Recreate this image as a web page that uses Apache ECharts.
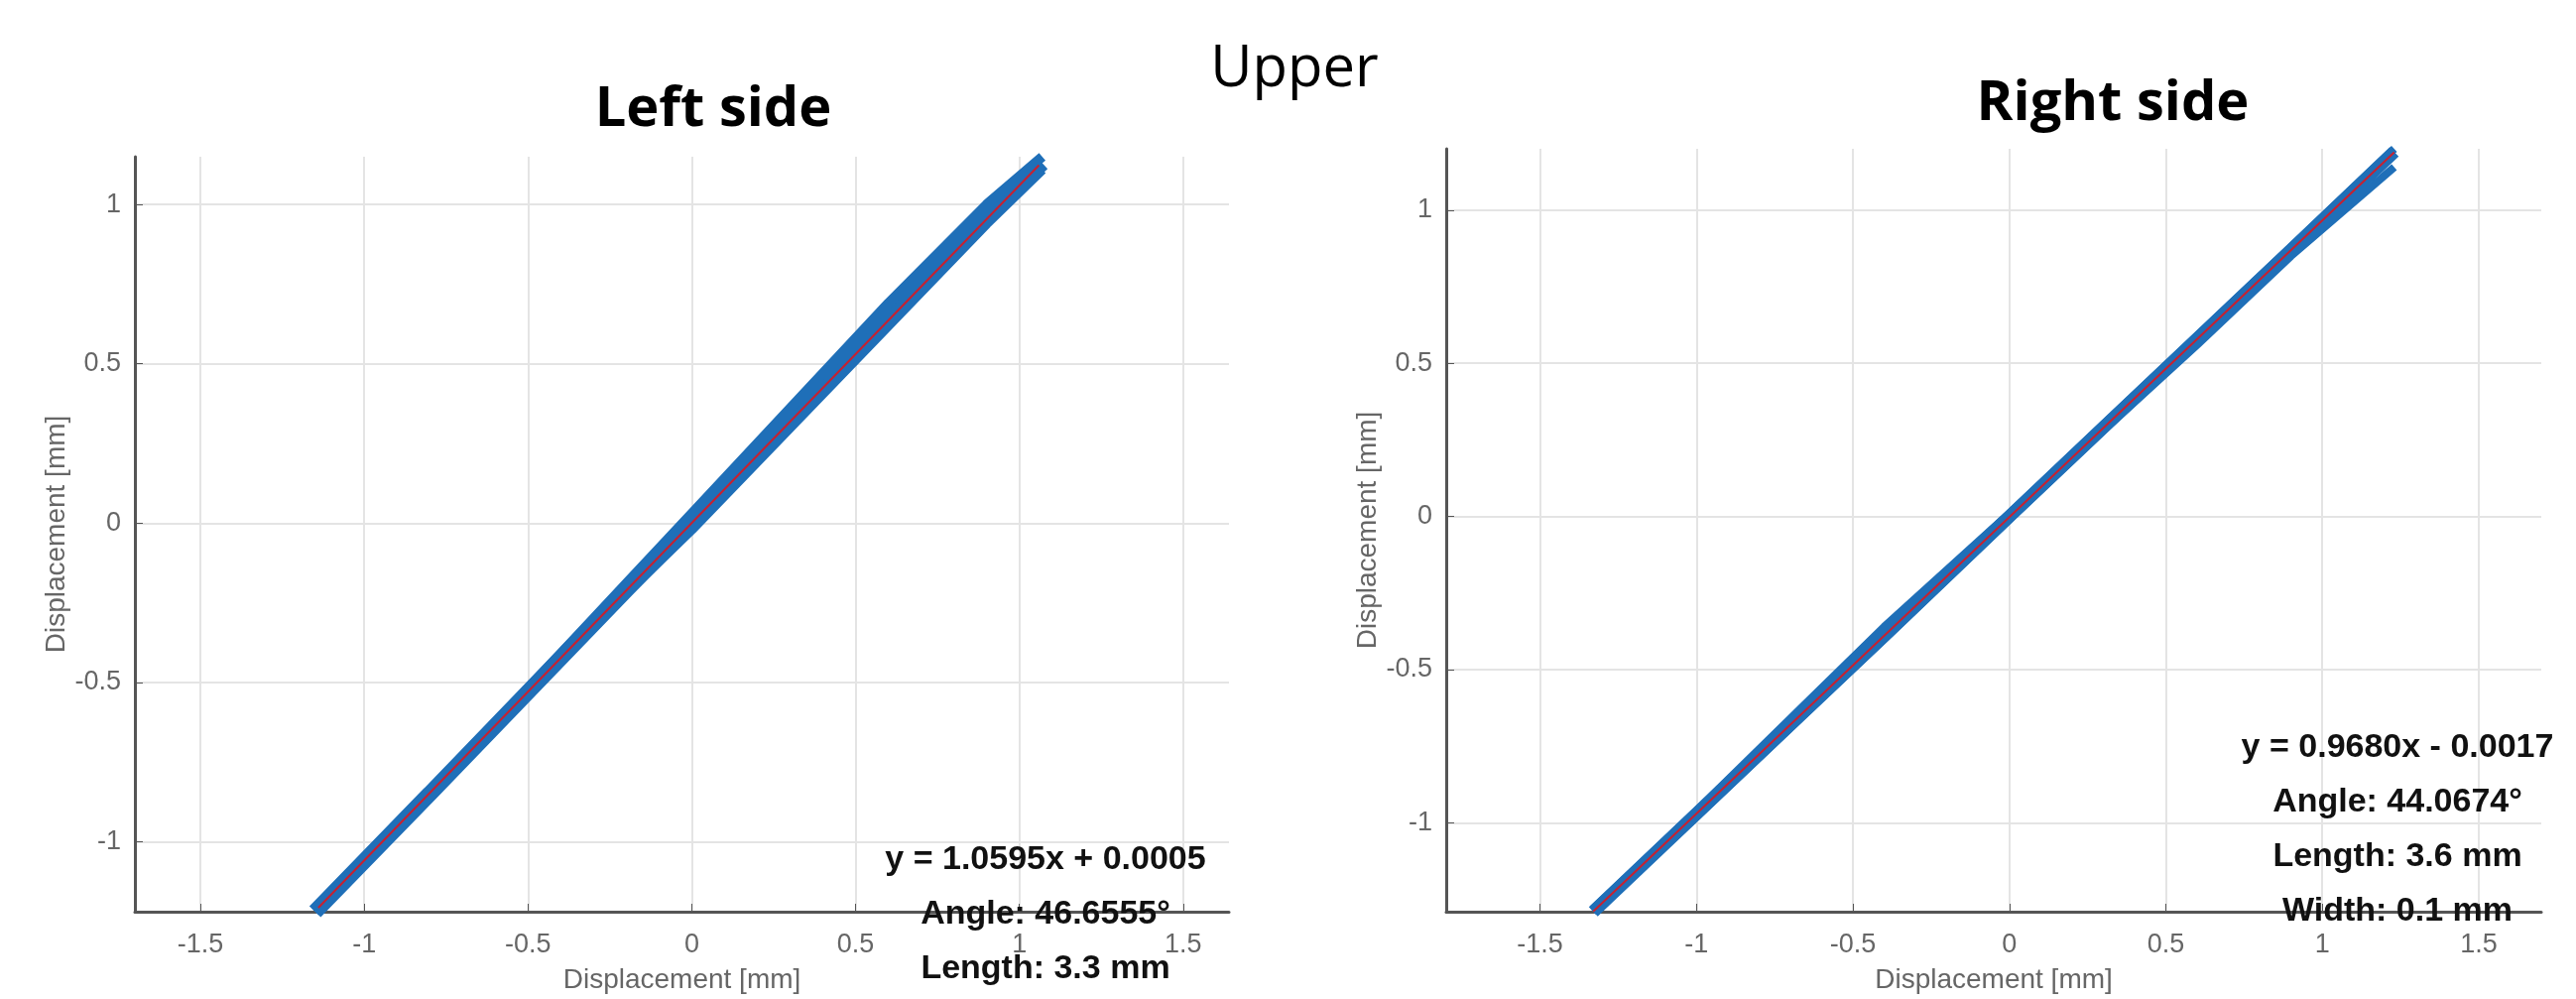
<!DOCTYPE html>
<html>
<head>
<meta charset="UTF-8">
<style>
  body { margin: 0; background: #fff; }
  #chart { width: 2597px; height: 1007px; }
</style>
<script src="https://cdn.jsdelivr.net/npm/echarts@6/dist/echarts.min.js"></script>
</head>
<body>
<div id="chart"></div>
<script>
// tick labels
var xTicks = [-1.5, -1, -0.5, 0, 0.5, 1, 1.5];
var yTicks = [-1, -0.5, 0, 0.5, 1];

var leftX  = [-1.15, -0.8, -0.5, -0.2, 0, 0.3, 0.6, 0.9, 1.07];
var leftY1 = [-1.22, -0.85, -0.53, -0.21, 0.0, 0.33, 0.65, 0.97, 1.13];
var leftY2 = [-1.21, -0.84, -0.52, -0.19, 0.03, 0.36, 0.69, 1.00, 1.15];
var leftY3 = [-1.22, -0.86, -0.54, -0.22, -0.02, 0.30, 0.62, 0.94, 1.11];
var leftFit = { slope: 1.0595, offset: 0.0005, x0: -1.14, x1: 1.06 };
var leftText = ['y = 1.0595x + 0.0005', 'Angle: 46.6555°', 'Length: 3.3 mm', 'Width: 0.1 mm'];

// right side
var rightX  = [-1.33, -1.0, -0.7, -0.4, 0, 0.3, 0.6, 0.9, 1.23];
var rightY1 = [-1.29, -0.97, -0.68, -0.39, 0.0, 0.29, 0.58, 0.87, 1.19];
var rightY2 = [-1.28, -0.96, -0.66, -0.36, 0.01, 0.30, 0.59, 0.88, 1.20];
var rightY3 = [-1.29, -0.98, -0.69, -0.40, -0.01, 0.28, 0.56, 0.85, 1.14];
var rightFit = { slope: 0.9680, offset: -0.0017, x0: -1.33, x1: 1.23 };
var rightText = ['y = 0.9680x - 0.0017', 'Angle: 44.0674°', 'Length: 3.6 mm', 'Width: 0.1 mm'];

function zip(xs, ys) { return xs.map(function (x, i) { return [x, ys[i]]; }); }
function fitLine(f) { return [[f.x0, f.slope * f.x0 + f.offset], [f.x1, f.slope * f.x1 + f.offset]]; }

function axis(idx, min, max, ticks, isX) {
  return {
    gridIndex: idx, type: 'value', min: min, max: max,
    name: 'Displacement [mm]', nameLocation: 'middle', nameGap: isX ? 55 : 65,
    nameTextStyle: { color: '#666', fontSize: 28, fontFamily: 'Arial' },
    axisLine: { onZero: false, lineStyle: { color: '#555', width: 3 } },
    axisTick: { show: true, inside: true, length: 8, customValues: ticks, lineStyle: { color: '#555' } },
    axisLabel: { color: '#666', fontSize: 27, fontFamily: 'Arial', margin: isX ? 20 : 14, customValues: ticks },
    splitLine: { lineStyle: { color: '#e4e4e4', width: 2 } }
  };
}
function trace(ax, data, w) {
  return { type: 'line', xAxisIndex: ax, yAxisIndex: ax, data: data, showSymbol: false,
    lineStyle: { color: '#1f6fb8', width: w }, silent: true, z: 2 };
}
function fit(ax, f) {
  return { type: 'line', xAxisIndex: ax, yAxisIndex: ax, data: fitLine(f), showSymbol: false,
    lineStyle: { color: '#c8202f', width: 2 }, silent: true, z: 3 };
}
function note(lines, cx, y0) {
  return lines.map(function (t, i) {
    return { type: 'text', x: cx, y: y0 + i * 55, z: 10,
      style: { text: t, fill: '#111', font: 'bold 34px Arial', textAlign: 'center', textVerticalAlign: 'middle' } };
  });
}

var chart = echarts.init(document.getElementById('chart'));
chart.setOption({
  backgroundColor: '#fff',
  animation: false,
  title: [
    { text: 'Left side', left: 714, top: 78, textAlign: 'center',
      textStyle: { fontSize: 56, fontWeight: 'bold', fontFamily: 'Open Sans', color: '#000' } },
    { text: 'Upper', left: 1300, top: 36, textAlign: 'center',
      textStyle: { fontSize: 58, fontWeight: 'normal', fontFamily: 'Open Sans', color: '#000' } },
    { text: 'Right side', left: 2125, top: 72, textAlign: 'center',
      textStyle: { fontSize: 56, fontWeight: 'bold', fontFamily: 'Open Sans', color: '#000' } }
  ],
  grid: [
    { left: 136, top: 158, width: 1103, height: 1013 },
    { left: 1458, top: 150, width: 1104, height: 1008 }
  ],
  xAxis: [axis(0, -1.7, 1.64, xTicks, true), axis(1, -1.8, 1.7, xTicks, true)],
  yAxis: [axis(0, -1.22, 1.15, yTicks, false), axis(1, -1.29, 1.2, yTicks, false)],
  graphic: note(leftText, 1054, 867).concat(note(rightText, 2417, 754)),
  series: [
    trace(0, zip(leftX, leftY1), 16), trace(0, zip(leftX, leftY2), 10), trace(0, zip(leftX, leftY3), 10),
    fit(0, leftFit),
    trace(1, zip(rightX, rightY1), 13), trace(1, zip(rightX, rightY2), 8), trace(1, zip(rightX, rightY3), 8),
    fit(1, rightFit)
  ]
});
</script>
</body>
</html>
